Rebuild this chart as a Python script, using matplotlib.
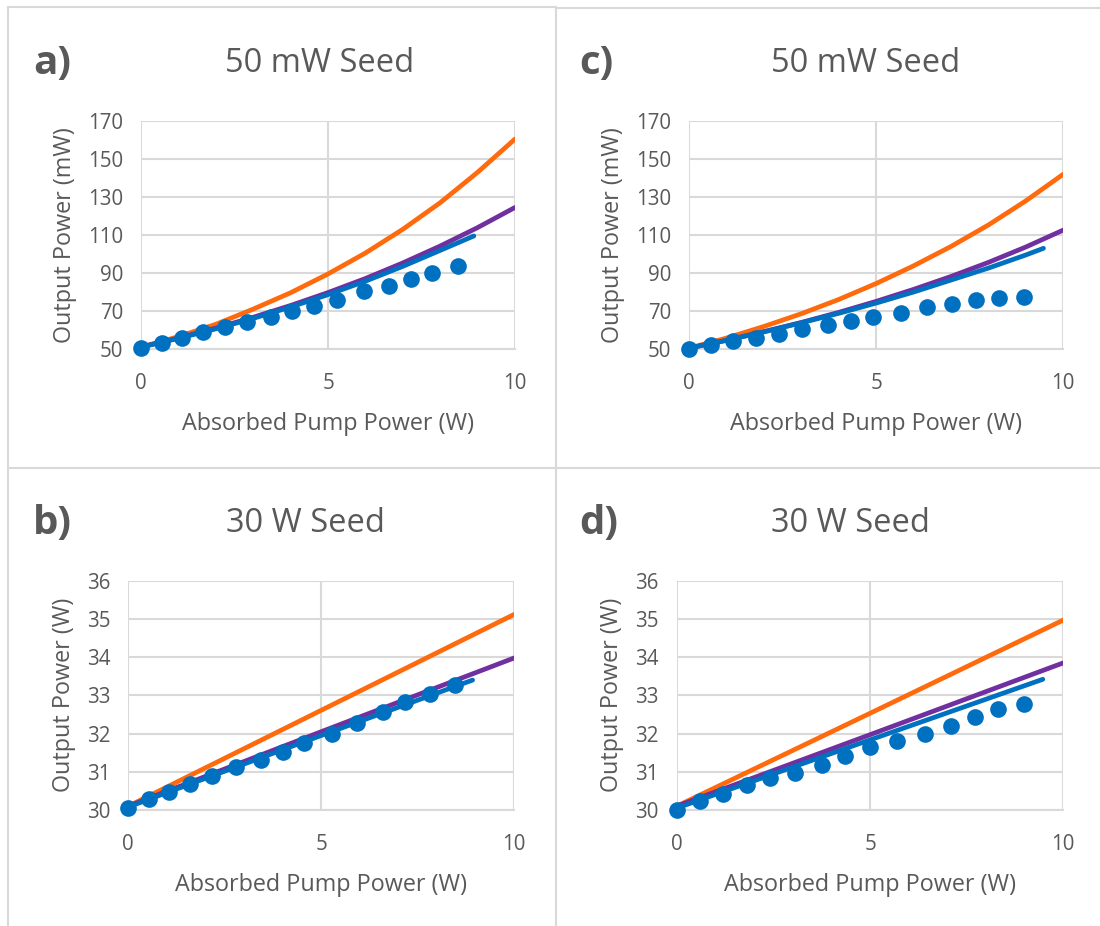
import numpy as np
import matplotlib.pyplot as plt
from matplotlib.lines import Line2D

plt.rcParams['font.family'] = ['Open Sans', 'DejaVu Sans']

TEXT = '#595959'
GRID = '#d9d9d9'
BLUE = '#0070c0'
ORANGE = '#ff6a0d'
PURPLE = '#7030a0'

# --- measured points (absorbed pump W, output power) ---
a_dot_x = [0, 0.56, 1.1, 1.66, 2.24, 2.83, 3.48, 4.05, 4.63, 5.25, 5.97, 6.62, 7.21, 7.79, 8.47]
a_dot_y = [50.5, 53.1, 55.6, 58.7, 61.5, 64.3, 67.1, 69.9, 72.7, 75.9, 80.3, 83.2, 86.7, 89.9, 93.7]

c_dot_x = [0, 0.59, 1.16, 1.78, 2.41, 3.02, 3.72, 4.33, 4.92, 5.65, 6.35, 7.02, 7.66, 8.27, 8.95]
c_dot_y = [50.0, 52.3, 54.0, 55.8, 57.9, 60.7, 62.8, 65.0, 66.8, 68.9, 72.0, 73.8, 75.9, 76.8, 77.3]

b_dot_x = [0, 0.54, 1.06, 1.6, 2.18, 2.79, 3.44, 4.0, 4.56, 5.27, 5.93, 6.6, 7.16, 7.81, 8.46]
b_dot_y = [30.06, 30.29, 30.46, 30.68, 30.90, 31.13, 31.32, 31.53, 31.75, 31.99, 32.27, 32.56, 32.82, 33.03, 33.28]

d_dot_x = [0, 0.6, 1.19, 1.81, 2.41, 3.06, 3.75, 4.35, 5.0, 5.69, 6.41, 7.09, 7.72, 8.32, 8.98]
d_dot_y = [30.0, 30.24, 30.42, 30.65, 30.83, 30.98, 31.19, 31.41, 31.66, 31.80, 32.0, 32.21, 32.43, 32.63, 32.77]

# --- model curves ---
curve_x = [0, 1, 2, 3, 4, 5, 6, 7, 8, 9, 10]

a_orange = [51.0, 56.5, 63.0, 71.0, 79.6, 89.5, 100.5, 113.0, 127.0, 143.0, 160.5]
a_purple = [51.0, 55.8, 61.0, 66.7, 72.9, 79.7, 87.1, 95.3, 104.2, 113.9, 124.5]
a_blue_x = [0, 1, 2, 3, 4, 5, 6, 7, 8, 8.9]
a_blue = [51.0, 55.6, 60.6, 66.1, 72.1, 78.6, 85.7, 93.5, 101.9, 109.5]

c_orange = [50.5, 55.8, 61.9, 68.6, 76.1, 84.5, 93.8, 104.0, 115.3, 128.0, 142.0]
c_purple = [50.5, 54.6, 59.2, 64.0, 69.3, 75.1, 81.4, 88.2, 95.6, 103.7, 112.6]
c_blue_x = [0, 1, 2, 3, 4, 5, 6, 7, 8, 9, 9.47]
c_blue = [50.5, 54.6, 59.0, 63.8, 68.8, 74.2, 80.0, 86.3, 92.6, 99.5, 103.0]

b_line_x = [0, 5, 10]
b_orange = [30.1, 32.61, 35.12]
b_purple = [30.1, 32.05, 33.98]
b_blue_x = [0, 4.46, 8.92]
b_blue = [30.08, 31.75, 33.4]

d_line_x = [0, 5, 10]
d_orange = [30.1, 32.53, 34.97]
d_purple = [30.1, 31.97, 33.85]
d_blue_x = [0, 4.735, 9.47]
d_blue = [30.05, 31.74, 33.42]

W, H = 1100, 926
fig = plt.figure(figsize=(W / 100, H / 100), dpi=100)


def fx(px):
    return px / W


def fy(py):
    return 1 - py / H


def panel(rect, lx, orange, purple, bx, blue, dx, dy, ylim, yticks, ylabel):
    ax = fig.add_axes(rect)
    ax.plot(lx, orange, color=ORANGE, lw=3.4, solid_capstyle='round',
            solid_joinstyle='round', zorder=3)
    ax.plot(lx, purple, color=PURPLE, lw=3.4, solid_capstyle='round',
            solid_joinstyle='round', zorder=4)
    ax.plot(bx, blue, color=BLUE, lw=3.4, solid_capstyle='round',
            solid_joinstyle='round', zorder=5)
    ax.plot(dx, dy, 'o', color=BLUE, ms=12, mec='none', zorder=6, clip_on=False)
    ax.set_xlim(0, 10)
    ax.set_ylim(*ylim)
    ax.set_xticks([0, 5, 10])
    ax.set_yticks(yticks)
    ax.grid(True, color=GRID, lw=1.5)
    ax.set_axisbelow(True)
    for s in ['top', 'right', 'left']:
        ax.spines[s].set_visible(False)
    ax.spines['bottom'].set_color(GRID)
    ax.spines['bottom'].set_linewidth(1.5)
    ax.tick_params(length=0, labelsize=14.8, labelcolor=TEXT)
    ax.tick_params(axis='x', pad=17)
    ax.tick_params(axis='y', pad=13)
    ax.set_xlabel('Absorbed Pump Power (W)', fontsize=16.8, color=TEXT, labelpad=13)
    ax.set_ylabel(ylabel, fontsize=16.8, color=TEXT, labelpad=8)
    return ax


top_h = (349 - 121) / H
bot_h = (810 - 580.7) / H

panel([fx(141), fy(349), (515 - 141) / W, top_h], curve_x, a_orange, a_purple,
      a_blue_x, a_blue, a_dot_x, a_dot_y, (50, 170), range(50, 171, 20), 'Output Power (mW)')
panel([fx(689.3), fy(349), (1063.3 - 689.3) / W, top_h], curve_x, c_orange, c_purple,
      c_blue_x, c_blue, c_dot_x, c_dot_y, (50, 170), range(50, 171, 20), 'Output Power (mW)')
panel([fx(128.3), fy(810), (514.3 - 128.3) / W, bot_h], b_line_x, b_orange, b_purple,
      b_blue_x, b_blue, b_dot_x, b_dot_y, (30, 36), range(30, 37), 'Output Power (W)')
panel([fx(676.7), fy(810), (1063.3 - 676.7) / W, bot_h], d_line_x, d_orange, d_purple,
      d_blue_x, d_blue, d_dot_x, d_dot_y, (30, 36), range(30, 37), 'Output Power (W)')

# panel letters and titles
for letter, px, py in [('a)', 33, 63), ('c)', 579, 63), ('b)', 33, 524), ('d)', 579, 524)]:
    fig.text(fx(px), fy(py), letter, fontsize=29, fontweight='bold', color=TEXT,
             ha='left', va='center')
for title, px, py in [('50 mW Seed', 320, 63), ('50 mW Seed', 866, 63),
                      ('30 W Seed', 305, 524), ('30 W Seed', 850, 524)]:
    fig.text(fx(px), fy(py), title, fontsize=23.5, color=TEXT, ha='center', va='center')

# frame lines between the four charts
frame = [((8, 8), (7, 926)), ((556, 556), (7, 926)), ((8, 556), (7, 7)),
         ((556, 1100), (8, 8)), ((8, 1100), (468, 468))]
for xs, ys in frame:
    fig.add_artist(Line2D([fx(x) for x in xs], [fy(y) for y in ys], color=GRID, lw=1.5))

fig.savefig('out.png', dpi=100)
